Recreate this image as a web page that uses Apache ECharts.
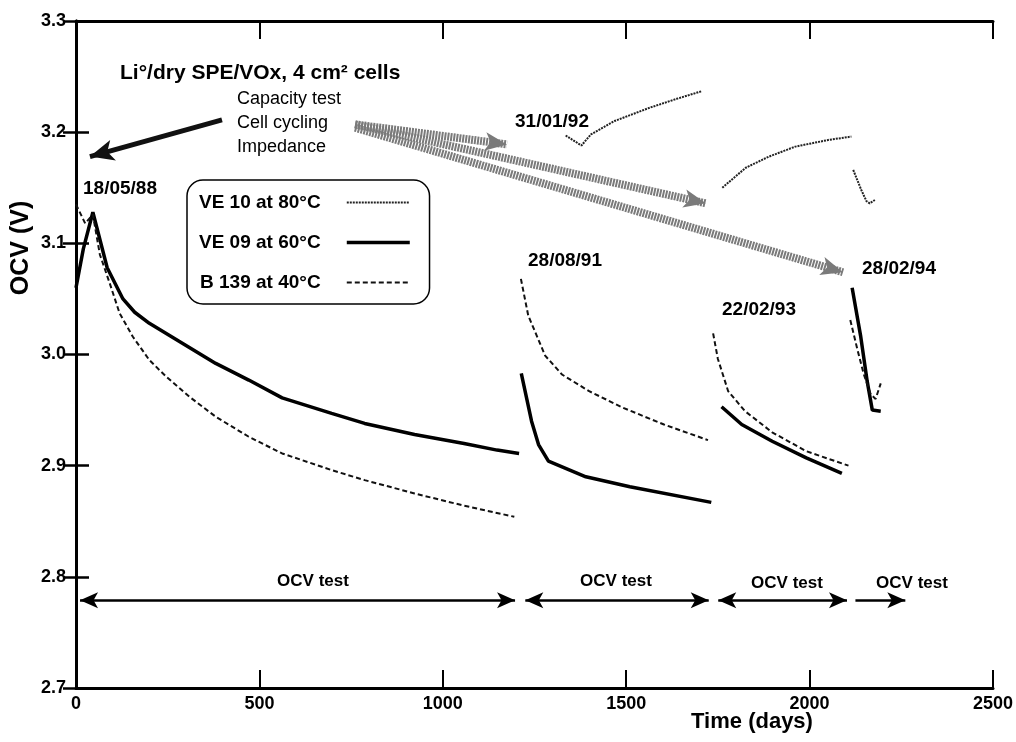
<!DOCTYPE html>
<html>
<head>
<meta charset="utf-8">
<script src="https://cdn.jsdelivr.net/npm/echarts@6/dist/echarts.min.js"></script>
<style>
  html, body { margin: 0; padding: 0; background: #fff; }
  #chart { width: 1016px; height: 742px; }
</style>
</head>
<body>
<div id="chart"></div>
<script>
// [days, OCV (V)], null = gap between test periods
var ve10 = [
  [1335, 3.197], [1378, 3.188], [1404, 3.198], [1468, 3.210], [1564, 3.222], [1638, 3.230], [1707, 3.237], null,
  [1762, 3.150], [1826, 3.168], [1889, 3.178], [1961, 3.187], [2051, 3.193], [2114, 3.196], null,
  [2119, 3.166], [2141, 3.148], [2155, 3.138], [2164, 3.136], [2178, 3.139]
]
var ve09 = [
  [0, 3.060], [20, 3.095], [46, 3.128], [85, 3.078], [128, 3.050], [160, 3.038], [200, 3.028], [291, 3.010],
  [381, 2.992], [471, 2.977], [562, 2.961], [697, 2.947], [787, 2.938], [923, 2.928], [1058, 2.920],
  [1148, 2.914], [1208, 2.911], null,
  [1214, 2.983], [1242, 2.940], [1261, 2.919], [1288, 2.904], [1390, 2.890], [1510, 2.881], [1732, 2.867], null,
  [1760, 2.953], [1815, 2.937], [1898, 2.922], [1991, 2.907], [2088, 2.893], null,
  [2116, 3.060], [2139, 3.017], [2157, 2.976], [2171, 2.950], [2194, 2.949]
]
var b139 = [
  [0, 3.135], [25, 3.118], [46, 3.126], [65, 3.090], [92, 3.064], [119, 3.037], [155, 3.016], [200, 2.995],
  [246, 2.980], [309, 2.962], [381, 2.944], [471, 2.926], [562, 2.911], [697, 2.896], [787, 2.887],
  [923, 2.875], [1058, 2.864], [1195, 2.854], null,
  [1213, 3.068], [1233, 3.035], [1279, 2.999], [1325, 2.982], [1399, 2.967], [1492, 2.952], [1603, 2.937], [1723, 2.923], null,
  [1737, 3.019], [1750, 2.996], [1778, 2.967], [1824, 2.949], [1898, 2.930], [1991, 2.913], [2106, 2.900], null,
  [2111, 3.031], [2130, 3.005], [2148, 2.982], [2167, 2.964], [2180, 2.960], [2194, 2.974]
]
var names = ['VE 10 at 80°C', 'VE 09 at 60°C', 'B 139 at 40°C']

// OCV test periods (days)
var ocvTests = [[11, 1197], [1225, 1725], [1751, 2102], [2125, 2261]]
// cycling/impedance arrows: [from, to] in [days, V]
var grayArrows = [
  [[761, 3.207], [1175, 3.189]],
  [[761, 3.207], [1717, 3.136]],
  [[761, 3.204], [2091, 3.074]]
]
var leftArrow = [[398, 3.211], [38, 3.178]]

var font = '"Liberation Sans", Arial, sans-serif'
var chart = echarts.init(document.getElementById('chart'))

function gaps(arr) {
  return arr.map(function (p) { return p === null ? '-' : p })
}

var marks = []
ocvTests.forEach(function (t, i) {
  marks.push([
    { coord: [t[0], 2.779], symbol: i === 3 ? 'none' : 'arrow' },
    { coord: [t[1], 2.779], symbol: 'arrow', lineStyle: { color: '#000', width: 2.5, type: 'solid' } }
  ])
})
grayArrows.forEach(function (a) {
  marks.push([
    { coord: a[0], symbol: 'none' },
    { coord: a[1], symbol: 'arrow', symbolSize: [14, 22], lineStyle: { color: '#7a7a7a', width: 8, type: [2, 1] } }
  ])
})
marks.push([
  { coord: leftArrow[0], symbol: 'none' },
  { coord: leftArrow[1], symbol: 'arrow', symbolSize: [16, 24], lineStyle: { color: '#111', width: 5, type: 'solid' } }
])

var axisLine = { show: true, lineStyle: { color: '#000', width: 3 } }
var xTick = { show: true, inside: true, length: 18, lineStyle: { color: '#000', width: 2 } }
var yTick = { show: true, inside: true, length: 13, lineStyle: { color: '#000', width: 2.5 } }
var tickFont = { color: '#000', fontFamily: font, fontWeight: 'bold', fontSize: 18 }

chart.setOption({
  animation: false,
  grid: { left: 76, right: 17, top: 21, bottom: 54 },
  xAxis: [
    { type: 'value', min: 0, max: 2500, interval: 500, position: 'bottom',
      axisLine: axisLine, axisTick: xTick, splitLine: { show: false },
      axisLabel: Object.assign({ margin: 7, formatter: function (v) { return String(v) } }, tickFont) },
    { type: 'value', min: 0, max: 2500, interval: 500, position: 'top',
      axisLine: axisLine, axisTick: xTick, splitLine: { show: false }, axisLabel: { show: false } }
  ],
  yAxis: [
    { type: 'value', min: 2.7, max: 3.3, interval: 0.1, position: 'left',
      axisLine: axisLine, axisTick: yTick, splitLine: { show: false },
      axisLabel: Object.assign({ margin: 10, formatter: function (v) { return v.toFixed(1) } }, tickFont) },
    { type: 'value', min: 2.7, max: 3.3, interval: 0.1, position: 'right',
      axisLine: axisLine, axisTick: yTick, splitLine: { show: false }, axisLabel: { show: false } }
  ],
  legend: {
    data: [
      { name: names[0] },
      { name: names[1], lineStyle: { width: 3.5 } },
      { name: names[2] }
    ],
    orient: 'vertical',
    left: 187,
    top: 180,
    align: 'right',
    itemWidth: 63,
    itemHeight: 18,
    itemGap: 21,
    padding: [13, 18, 12, 12],
    borderColor: '#000',
    borderWidth: 1.5,
    borderRadius: 16,
    itemStyle: { opacity: 0 },
    formatter: function (n) { return n + '    ' },
    textStyle: { color: '#000', fontFamily: font, fontWeight: 'bold', fontSize: 19 }
  },
  series: [
    { name: names[0], type: 'line', data: gaps(ve10), symbol: 'none', connectNulls: false,
      lineStyle: { color: '#222', width: 2, type: [2, 1] }, itemStyle: { color: '#222' } },
    { name: names[1], type: 'line', data: gaps(ve09), symbol: 'none', connectNulls: false,
      lineStyle: { color: '#000', width: 3.5 }, itemStyle: { color: '#000' },
      markLine: { silent: true, symbolSize: [12, 18], label: { show: false }, data: marks } },
    { name: names[2], type: 'line', data: gaps(b139), symbol: 'none', connectNulls: false,
      lineStyle: { color: '#111', width: 2, type: [5, 3] }, itemStyle: { color: '#111' } }
  ],
  graphic: [
    { type: 'text', x: 120, y: 73, style: { text: 'Li°/dry SPE/VOx, 4 cm² cells', font: 'bold 21px ' + font, fill: '#000', align: 'left', verticalAlign: 'middle' } },
    { type: 'text', x: 237, y: 87, style: { text: 'Capacity test\nCell cycling\nImpedance', font: '18px ' + font, lineHeight: 24, fill: '#000', align: 'left', verticalAlign: 'top' } },
    { type: 'text', x: 83, y: 189, style: { text: '18/05/88', font: 'bold 19px ' + font, fill: '#000', verticalAlign: 'middle' } },
    { type: 'text', x: 515, y: 122, style: { text: '31/01/92', font: 'bold 19px ' + font, fill: '#000', verticalAlign: 'middle' } },
    { type: 'text', x: 528, y: 261, style: { text: '28/08/91', font: 'bold 19px ' + font, fill: '#000', verticalAlign: 'middle' } },
    { type: 'text', x: 722, y: 310, style: { text: '22/02/93', font: 'bold 19px ' + font, fill: '#000', verticalAlign: 'middle' } },
    { type: 'text', x: 862, y: 269, style: { text: '28/02/94', font: 'bold 19px ' + font, fill: '#000', verticalAlign: 'middle' } },
    { type: 'text', x: 313, y: 581, style: { text: 'OCV test', font: 'bold 17px ' + font, fill: '#000', align: 'center', verticalAlign: 'middle' } },
    { type: 'text', x: 616, y: 581, style: { text: 'OCV test', font: 'bold 17px ' + font, fill: '#000', align: 'center', verticalAlign: 'middle' } },
    { type: 'text', x: 787, y: 583, style: { text: 'OCV test', font: 'bold 17px ' + font, fill: '#000', align: 'center', verticalAlign: 'middle' } },
    { type: 'text', x: 912, y: 583, style: { text: 'OCV test', font: 'bold 17px ' + font, fill: '#000', align: 'center', verticalAlign: 'middle' } },
    { type: 'text', x: 752, y: 722, style: { text: 'Time (days)', font: 'bold 22px ' + font, fill: '#000', align: 'center', verticalAlign: 'middle' } },
    { type: 'text', x: 21, y: 248, rotation: Math.PI / 2, style: { text: 'OCV (V)', font: 'bold 25px ' + font, fill: '#000', align: 'center', verticalAlign: 'middle' } }
  ]
})
</script>
</body>
</html>
